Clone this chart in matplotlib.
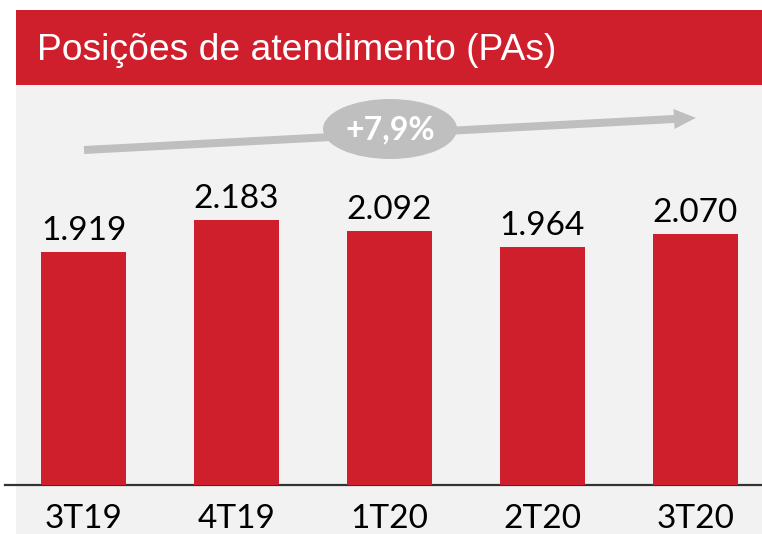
import matplotlib.pyplot as plt
from matplotlib.patches import Rectangle, Ellipse, FancyArrow

# data
quarters = ['3T19', '4T19', '1T20', '2T20', '3T20']
pas = [1919, 2183, 2092, 1964, 2070]
value_labels = ['1.919', '2.183', '2.092', '1.964', '2.070']
title = 'Posições de atendimento (PAs)'
growth = '+7,9%'

red = '#d01f2c'
light = '#f2f2f2'
grey = '#bfbfbf'
numfont = ['Lato', 'DejaVu Sans']

W, H = 762, 534
fig = plt.figure(figsize=(W / 100, H / 100), dpi=100)

# background / decoration layer in pixel coords
bg = fig.add_axes([0, 0, 1, 1])
bg.set_xlim(0, W)
bg.set_ylim(H, 0)
bg.axis('off')
bg.add_patch(Rectangle((16, 85), W - 16, H - 85, color=light, lw=0))
bg.add_patch(Rectangle((16, 10), W - 16, 75, color=red, lw=0))
bg.text(37, 50, title, color='white', fontsize=26.8, family='Liberation Sans',
        va='center', ha='left')

# growth arrow + ellipse
bg.add_patch(FancyArrow(84, 150, 590, -31, width=8, head_width=20, head_length=22,
                        length_includes_head=False, color=grey, lw=0))
bg.add_patch(Ellipse((390, 129), 134, 60, color=grey, lw=0))
bg.text(390, 130, growth, color='white', fontsize=23, fontweight='bold',
        family=numfont, ha='center', va='center')

# baseline
bg.plot([5, W], [485, 485], color='#333333', lw=1.6)

# bars
ax = fig.add_axes([0, (H - 485) / H, 1, (485 - 85) / H])
ax.patch.set_alpha(0)
x = list(range(len(quarters)))
ax.bar(x, pas, width=85 / 153, color=red)
ax.set_xlim((0 - 83.5) / 153, (W - 83.5) / 153)
ax.set_ylim(0, 400 / (265 / 2183))
for xi, v, lab in zip(x, pas, value_labels):
    ax.annotate(lab, (xi, v), xytext=(0, 4), textcoords='offset points',
                ha='center', va='bottom', fontsize=24, family=numfont, color='black')
ax.set_xticks(x)
ax.set_xticklabels(quarters, fontsize=24, family=numfont)
ax.tick_params(axis='x', length=0, pad=14)
ax.set_yticks([])
for s in ax.spines.values():
    s.set_visible(False)

fig.savefig('out.png', dpi=100)
